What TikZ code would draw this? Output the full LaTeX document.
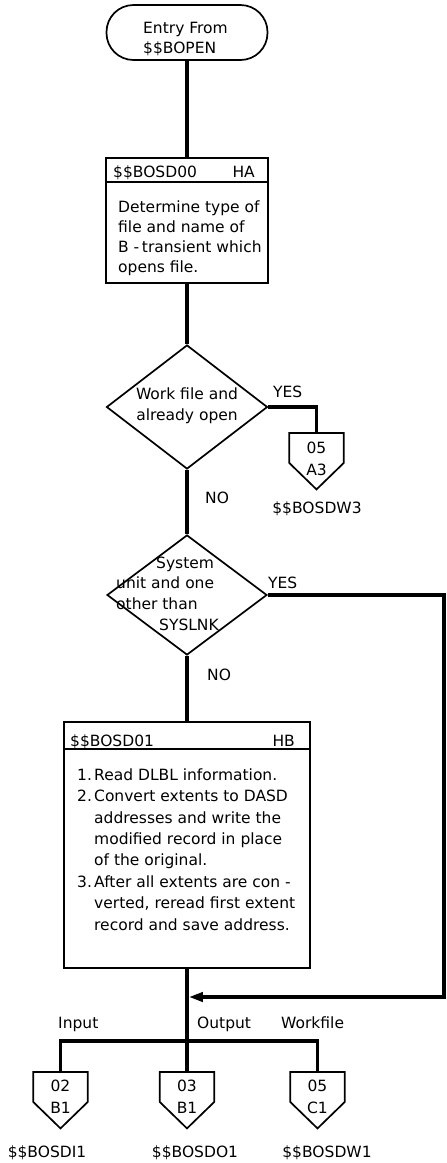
\documentclass[tikz,border=0pt]{standalone}
\usepackage{fontspec}
\setmainfont{DejaVu Sans}
\usetikzlibrary{shapes.geometric,arrows.meta,calc}
\newcommand{\pagecon}[1]{\draw[line width=1.7pt, line join=miter] (#1.north west) -- (#1.north east) -- ($(#1.north east)+(0,30)$) -- (#1.south) -- ($(#1.north west)+(0,30)$) -- cycle;}
\begin{document}
\begin{tikzpicture}[x=1pt,y=-1pt,
  every node/.style={font=\fontsize{15.5}{20}\selectfont, inner sep=0pt},
  flow/.style={line width=3.5pt},
  outline/.style={draw, line width=1.7pt},
  term/.style={outline, rounded corners=27pt, minimum width=161pt, minimum height=55pt},
  procbox/.style={outline, rectangle},
  decision/.style={outline, diamond},
  conn/.style={rectangle, minimum width=54pt, minimum height=56pt},
  txt/.style={anchor=base west},
  ctr/.style={anchor=base},
  block/.style={anchor=north west, align=left},
]
\useasboundingbox (0,0) rectangle (447,1163);

% terminal
\node[term] (start) at (187,32.5) {};
\node[block] (starttxt) at (143,20) {\rule{0pt}{13pt}Entry From\\\$\$BOPEN};

% box HA
\node[procbox, minimum width=162pt, minimum height=125pt] (ha) at (187,220.5) {};
\draw[line width=1.7pt] ($(ha.north west)+(0,25)$) -- ($(ha.north east)+(0,25)$);
\node[txt] (hahead) at (113,177) {\$\$BOSD00};
\node[anchor=base east] (haid) at (255,177) {HA};
\node[block] (habody) at (118,199) {\rule{0pt}{13pt}Determine type of\\file and name of\\B -\,transient which\\opens file.};

% decision 1
\node[decision, minimum width=161pt, minimum height=124pt] (d1) at (187,407) {};
\node[anchor=north, align=center, font=\fontsize{15.5}{21}\selectfont] (d1txt) at (187,386) {\rule{0pt}{13pt}Work file and\\already open};
\node[txt] (yes1) at (273,397) {YES};
\node[txt] (no1) at (205,503) {NO};

% connector 05 A3
\node[conn, anchor=north] (ca) at (316.5,433) {};
\pagecon{ca}
\node[ctr] (catop) at ($(ca.north)+(0,20)$) {05};
\node[ctr] (cabot) at ($(ca.north)+(0,42)$) {A3};
\node[ctr] (w3) at (317,513) {\$\$BOSDW3};

% decision 2
\node[decision, minimum width=160pt, minimum height=120pt] (d2) at (187,595) {};
\node[block, font=\fontsize{15.5}{20.7}\selectfont] (d2txt) at (116,555) {\rule{0pt}{13pt}\hspace*{40pt}System\\unit and one\\other than\\\hspace*{43pt}SYSLNK};
\node[txt] (yes2) at (268,588) {YES};
\node[txt] (no2) at (207,680) {NO};

% box HB
\node[procbox, minimum width=246pt, minimum height=246pt] (hb) at (187,845) {};
\draw[line width=1.7pt] ($(hb.north west)+(0,28)$) -- ($(hb.north east)+(0,28)$);
\node[txt] (hbhead) at (70,746) {\$\$BOSD01};
\node[anchor=base east] (hbid) at (295,746) {HB};
\node[block, font=\fontsize{15.5}{21.4}\selectfont] (hbbody) at (77,767) {\rule{0pt}{13pt}\makebox[17pt][l]{1.}Read DLBL information.\\
\makebox[17pt][l]{2.}Convert extents to DASD\\
\hspace*{17pt}addresses and write the\\
\hspace*{17pt}modified record in place\\
\hspace*{17pt}of the original.\\
\makebox[17pt][l]{3.}After all extents are con -\\
\hspace*{17pt}verted, reread first extent\\
\hspace*{17pt}record and save address.};

% bottom connectors
\node[conn, anchor=north] (c1) at (60.5,1072) {};
\node[conn, anchor=north] (c2) at (187,1072) {};
\node[conn, anchor=north] (c3) at (317.5,1072) {};
\pagecon{c1}
\pagecon{c2}
\pagecon{c3}
\node[ctr] (c1top) at ($(c1.north)+(0,19)$) {02};
\node[ctr] (c1bot) at ($(c1.north)+(0,41)$) {B1};
\node[ctr] (c2top) at ($(c2.north)+(0,19)$) {03};
\node[ctr] (c2bot) at ($(c2.north)+(0,41)$) {B1};
\node[ctr] (c3top) at ($(c3.north)+(0,19)$) {05};
\node[ctr] (c3bot) at ($(c3.north)+(0,41)$) {C1};
\node[txt] (lin) at (58,1028) {Input};
\node[txt] (lout) at (197,1028) {Output};
\node[txt] (lwork) at (281,1028) {Workfile};
\node[ctr] (n1) at (47,1157) {\$\$BOSDI1};
\node[ctr] (n2) at (195,1157) {\$\$BOSDO1};
\node[ctr] (n3) at (327,1157) {\$\$BOSDW1};

% flow lines
\coordinate (m) at (187,997);
\coordinate (j) at (187,1041);
\draw[flow] (start.south) -- (ha.north);
\draw[flow] (ha.south) -- (d1.north);
\draw[flow] (d1.east) -| (ca.north);
\draw[flow] (d1.south) -- (d2.north);
\draw[flow] (d2.south) -- (hb.north);
\draw[flow, -{Triangle[length=14pt,width=9pt]}, shorten >=1.75pt] (d2.east) -- ++(176,0) |- (m);
\draw[flow] (hb.south) -- (c2.north);
\draw[flow] (j) -| (c1.north);
\draw[flow] (j) -| (c3.north);
\end{tikzpicture}
\end{document}
